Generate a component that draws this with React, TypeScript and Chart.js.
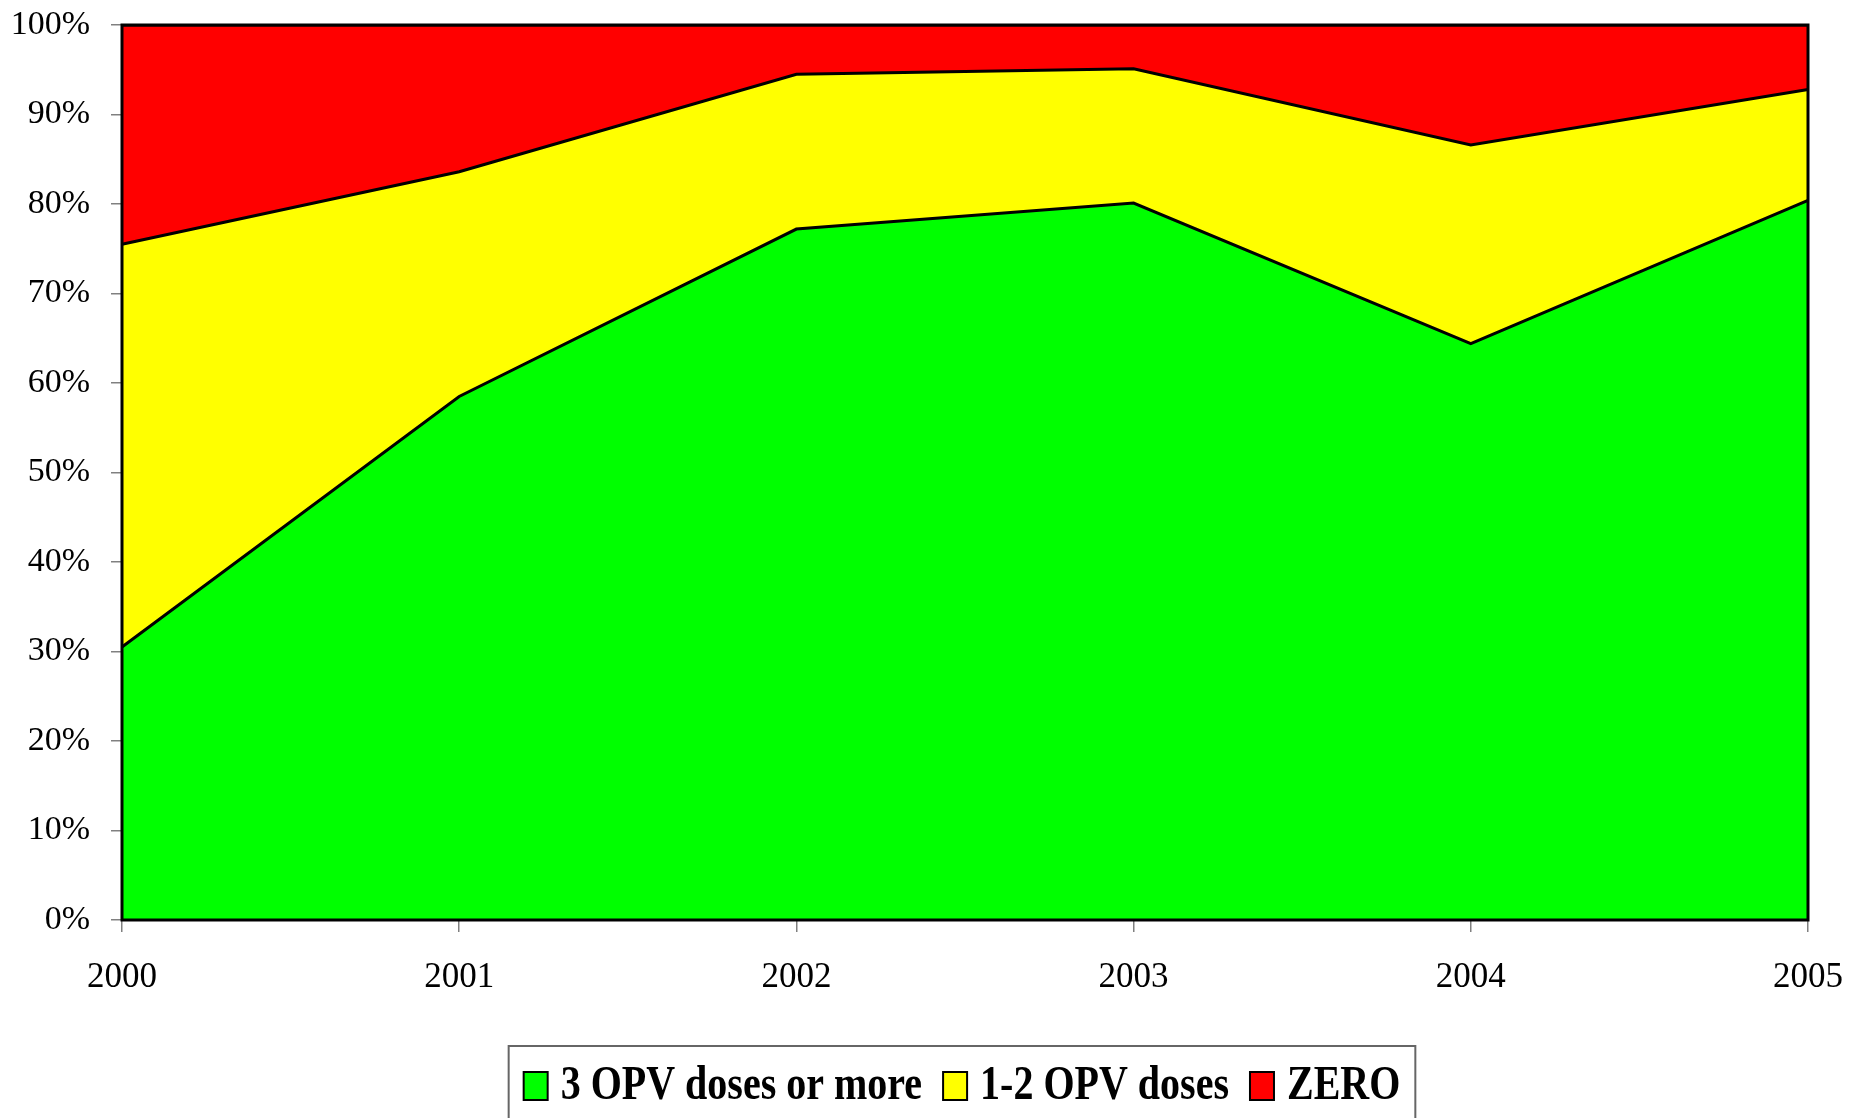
import React, { useEffect, useRef } from "react";
import { Chart, registerables } from "chart.js";

Chart.register(...registerables);

// ---- data (percent of children) ----
const years = ["2000", "2001", "2002", "2003", "2004", "2005"];
const threeOrMore = [30.5, 58.5, 77.2, 80.1, 64.4, 80.4];
const oneToTwo = [45.0, 25.1, 17.3, 15.0, 22.2, 12.4];
const zeroDoses = [24.5, 16.4, 5.5, 4.9, 13.4, 7.2];
const seriesNames = ["3 OPV doses or more", "1-2 OPV doses", "ZERO"];
const seriesColors = ["#00FF00", "#FFFF00", "#FF0000"];
const yTickValues = [0, 10, 20, 30, 40, 50, 60, 70, 80, 90, 100];

const SERIF = "'Liberation Serif', 'Times New Roman', serif";

const frameAndLegend = {
  id: "frameAndLegend",
  afterDatasetsDraw(chart: any) {
    const { ctx, chartArea } = chart;
    ctx.save();
    ctx.strokeStyle = "#000";
    ctx.lineWidth = 3;
    ctx.strokeRect(chartArea.left, chartArea.top, chartArea.right - chartArea.left, chartArea.bottom - chartArea.top);
    ctx.restore();
  },
  afterDraw(chart: any) {
    const { ctx, chartArea } = chart;
    ctx.save();
    ctx.font = `bold 40px ${SERIF}`;
    const boxW = 24;
    const boxH = 28;
    const gapText = 13;
    const gapItem = 21;
    const items = chart.data.datasets.map((ds: any) => ({
      label: ds.label,
      color: ds.backgroundColor,
      w: ctx.measureText(ds.label).width,
    }));
    let total = 0;
    items.forEach((it: any, i: number) => {
      total += boxW + gapText + it.w + (i > 0 ? gapItem : 0);
    });
    const cx = (chartArea.left + chartArea.right) / 2 - 3;
    const startX = cx - total / 2;
    const frameLeft = startX - 15;
    const frameRight = startX + total + 15;
    ctx.strokeStyle = "#666";
    ctx.lineWidth = 2;
    ctx.strokeRect(frameLeft, 1046, frameRight - frameLeft, 120);
    let x = startX;
    const boxTop = 1072;
    const baseline = 1099;
    items.forEach((it: any) => {
      ctx.fillStyle = it.color;
      ctx.fillRect(x, boxTop, boxW, boxH);
      ctx.strokeStyle = "#000";
      ctx.lineWidth = 2;
      ctx.strokeRect(x, boxTop, boxW, boxH);
      x += boxW + gapText;
      ctx.save();
      ctx.translate(x, baseline);
      ctx.scale(1, 1.2);
      ctx.fillStyle = "#000";
      ctx.textBaseline = "alphabetic";
      ctx.textAlign = "left";
      ctx.fillText(it.label, 0, 0);
      ctx.restore();
      x += it.w + gapItem;
    });
    ctx.restore();
  },
};

export default function App() {
  const canvasRef = useRef<HTMLCanvasElement | null>(null);

  useEffect(() => {
    if (!canvasRef.current) return;
    const series = [threeOrMore, oneToTwo, zeroDoses];
    const chart = new Chart(canvasRef.current, {
      type: "line",
      data: {
        labels: years,
        datasets: series.map((values, i) => ({
          label: seriesNames[i],
          data: values,
          backgroundColor: seriesColors[i],
          borderColor: "#000000",
          borderWidth: 3,
          pointRadius: 0,
          tension: 0,
          fill: i === 0 ? "origin" : "-1",
        })),
      },
      options: {
        responsive: false,
        animation: false,
        devicePixelRatio: 1,
        layout: { padding: { top: 25, right: 56, left: 0, bottom: 0 } },
        plugins: {
          legend: { display: false },
          tooltip: { enabled: false },
        },
        scales: {
          x: {
            type: "category",
            offset: false,
            border: { display: false },
            grid: {
              display: true,
              drawOnChartArea: false,
              drawTicks: true,
              tickLength: 12,
              color: "#808080",
              lineWidth: 1.5,
            },
            ticks: {
              color: "#000",
              font: { family: SERIF, size: 35 },
              padding: 25,
              maxRotation: 0,
              autoSkip: false,
            },
            afterFit: (scale: any) => {
              scale.height = 198;
              scale.paddingLeft = 0;
              scale.paddingRight = 0;
            },
          },
          y: {
            stacked: true,
            min: 0,
            max: 100,
            border: { display: false },
            grid: {
              display: true,
              drawOnChartArea: false,
              drawTicks: true,
              tickLength: 11,
              color: "#808080",
              lineWidth: 1.5,
            },
            afterBuildTicks: (scale: any) => {
              scale.ticks = yTickValues.map((v) => ({ value: v }));
            },
            ticks: {
              color: "#000",
              font: { family: SERIF, size: 34 },
              padding: 21,
              callback: (v: any) => `${v}%`,
            },
            afterFit: (scale: any) => {
              scale.width = 122;
              scale.paddingTop = 0;
              scale.paddingBottom = 0;
            },
          },
        },
      },
      plugins: [frameAndLegend],
    });
    return () => chart.destroy();
  }, []);

  return (
    <div style={{ position: "absolute", left: 0, top: 0, width: 1864, height: 1118, background: "#fff" }}>
      <canvas ref={canvasRef} width={1864} height={1118} style={{ display: "block", width: 1864, height: 1118 }} />
    </div>
  );
}
